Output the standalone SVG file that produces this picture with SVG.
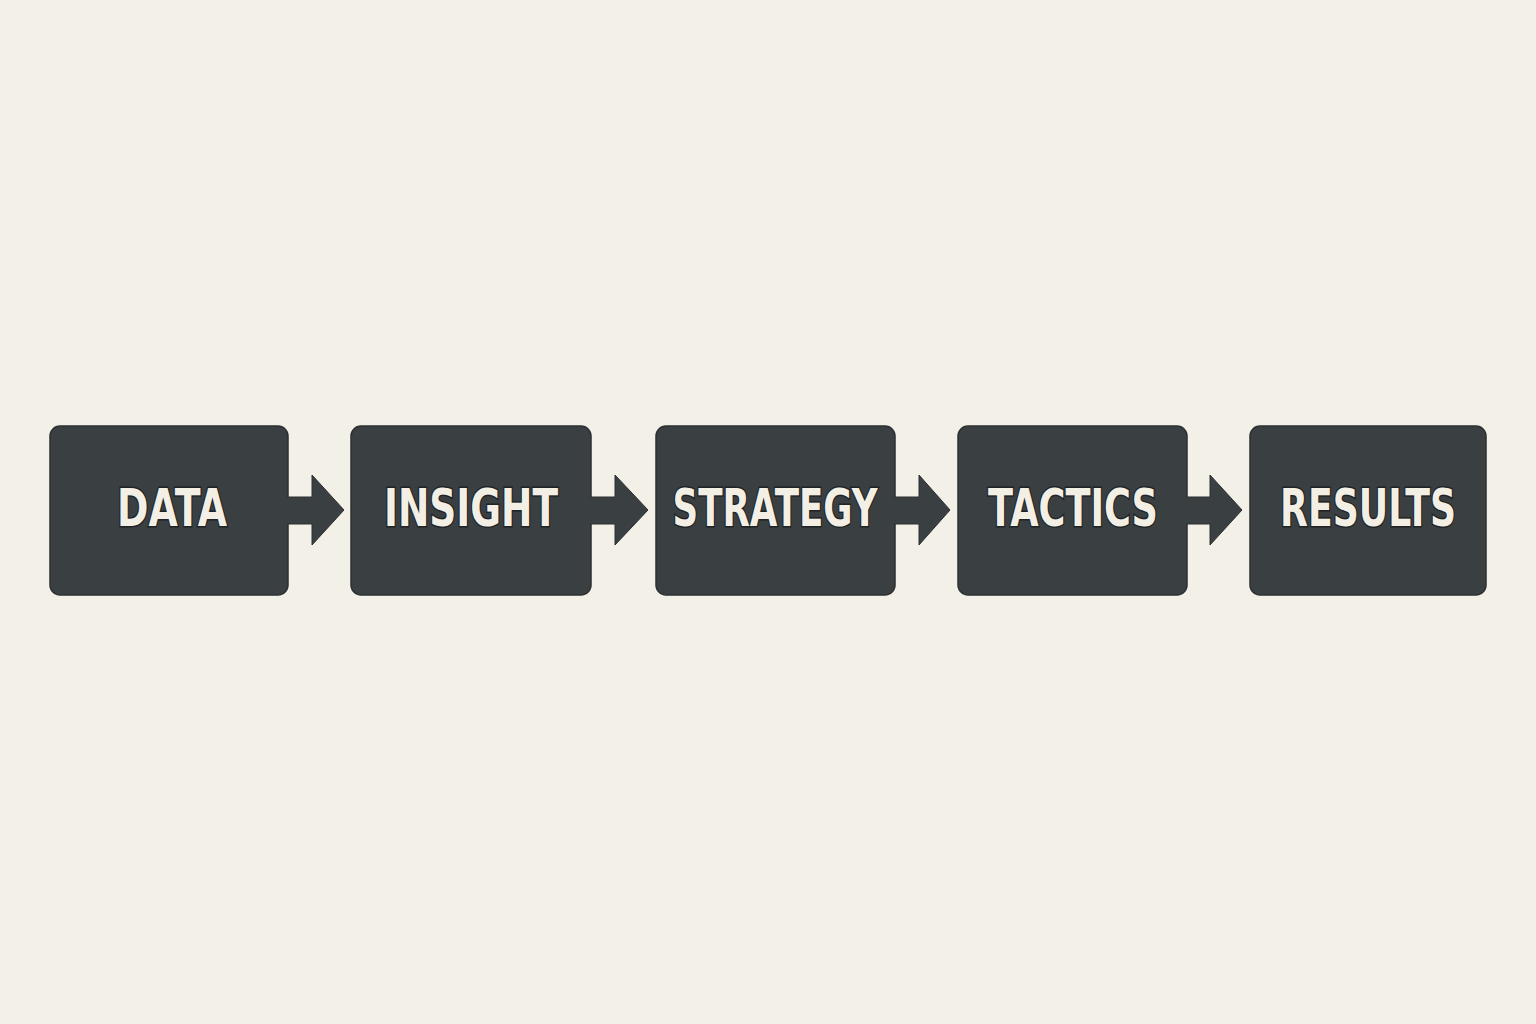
<svg xmlns="http://www.w3.org/2000/svg" width="1536" height="1024" viewBox="0 0 1536 1024">
<defs>
<style>
.box{fill:#3a3f42;stroke:#2c3033;stroke-width:1.5}
.lbl{font-family:"DejaVu Sans","Liberation Sans",Arial,sans-serif;font-weight:bold;font-size:51px;fill:#f3efe5;stroke:#1f2325;stroke-width:3;paint-order:stroke;text-anchor:middle}
.arr{fill:#3a3f42;stroke:#2c3033;stroke-width:1}
</style>
</defs>
<rect width="1536" height="1024" fill="#f3f0e7"/>
<g id="node-data">
<rect class="box" x="50" y="426" width="238" height="169" rx="10"/>
<text class="lbl" x="172" y="526" textLength="110" lengthAdjust="spacingAndGlyphs">DATA</text>
</g>
<g id="node-insight">
<rect class="box" x="351" y="426" width="240" height="169" rx="10"/>
<text class="lbl" x="471" y="526" textLength="174" lengthAdjust="spacingAndGlyphs">INSIGHT</text>
</g>
<g id="node-strategy">
<rect class="box" x="656" y="426" width="239" height="169" rx="10"/>
<text class="lbl" x="775" y="526" textLength="205" lengthAdjust="spacingAndGlyphs">STRATEGY</text>
</g>
<g id="node-tactics">
<rect class="box" x="958" y="426" width="229" height="169" rx="10"/>
<text class="lbl" x="1073" y="526" textLength="170" lengthAdjust="spacingAndGlyphs">TACTICS</text>
</g>
<g id="node-results">
<rect class="box" x="1250" y="426" width="236" height="169" rx="10"/>
<text class="lbl" x="1368" y="526" textLength="176" lengthAdjust="spacingAndGlyphs">RESULTS</text>
</g>
<g id="connectors">
<path class="arr" d="M287 497 H312 V475 L344 510 L312 545 V524 H287"/>
<path class="arr" d="M590 497 H615 V475 L648 510 L615 545 V524 H590"/>
<path class="arr" d="M894 497 H919 V475 L950 510 L919 545 V524 H894"/>
<path class="arr" d="M1186 497 H1210 V475 L1242 510 L1210 545 V524 H1186"/>
</g>
</svg>
